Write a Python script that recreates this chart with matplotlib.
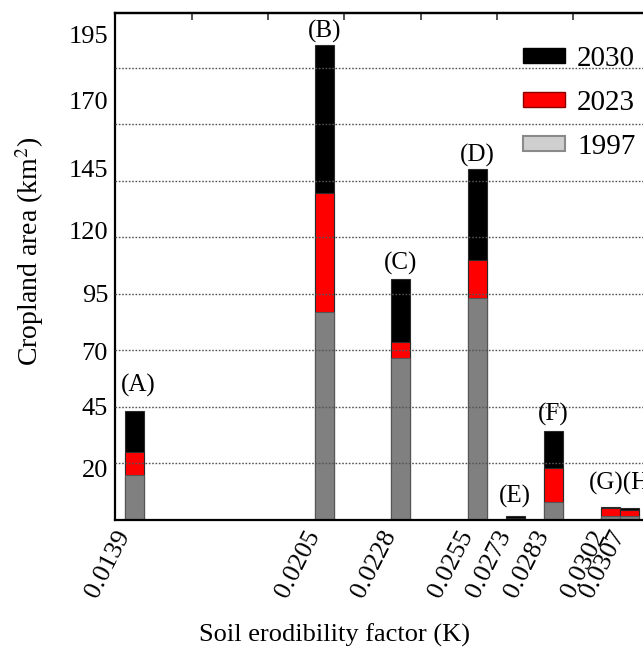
import matplotlib
matplotlib.use("Agg")
import matplotlib.pyplot as plt
from matplotlib.patches import Patch

plt.rcParams["font.family"] = ["Liberation Serif", "DejaVu Serif"]
plt.rcParams["mathtext.fontset"] = "stix"

# soil erodibility classes and cropland area (km2) per year
k_labels = ["0.0139", "0.0205", "0.0228", "0.0255", "0.0273", "0.0283", "0.0302", "0.0307"]
site_tags = ["(A)", "(B)", "(C)", "(D)", "(E)", "(F)", "(G)", "(H)"]
area_2030 = [48.2, 210.0, 106.5, 155.3, 1.8, 39.5, 5.6, 5.4]
area_2023 = [30.2, 144.7, 78.9, 115.0, 0.8, 22.9, 5.3, 4.3]
area_1997 = [19.9, 92.2, 71.8, 98.1, 0.4, 8.1, 1.8, 1.8]

# y tick labels as printed on the figure
ytick_labels = ["20", "45", "70", "95", "120", "145", "170", "195"]

# layout: slot position of each bar along the x axis
x_slot = [0, 2.5, 3.5, 4.5, 5.0, 5.5, 6.25, 6.5]
ytick_pos = [22.6, 50.0, 74.5, 100.3, 127.9, 155.4, 185.5, 214.6]
grid_vals = [25, 50, 75, 100, 125, 150, 175, 200]
# (dx, dy) offsets in points for the site tags
tag_offsets = [(3, 10), (0, 1.5), (0, 3), (0, 1.5), (0, 5.5), (0, 3.5), (-15.5, 9), None]

W, H = 643, 649
fig = plt.figure(figsize=(W / 100, H / 100), dpi=100)
ax = fig.add_axes([115 / W, 1 - 520 / H, 545 / W, 507 / H])

bw = 0.25
edge = "#2b2b2b"
ax.bar(x_slot, area_2030, width=bw, color="#000000", edgecolor=edge, linewidth=0.8, zorder=2)
ax.bar(x_slot, area_2023, width=bw, color="#ff0000", edgecolor=edge, linewidth=0.8, zorder=2)
ax.bar(x_slot, area_1997, width=bw, color="#808080", edgecolor="#555555", linewidth=0.8, zorder=2)

for v in grid_vals:
    ax.axhline(v, color="#555555", linestyle=(0, (1.2, 1.2)), linewidth=1.0, zorder=3)

for i, tag in enumerate(site_tags):
    off = tag_offsets[i]
    if off is None:
        continue
    text = "(G)(H)" if tag == "(G)" else tag
    ax.annotate(text, xy=(x_slot[i], area_2030[i]), xytext=off, textcoords="offset points",
                ha="left" if tag == "(G)" else "center", va="bottom", fontsize=18, zorder=4)

ax.set_xlim(-0.25, 6.9)
ax.set_ylim(0, 224.3)
ax.set_xticks(x_slot)
ax.set_xticklabels(k_labels, rotation=63, ha="right", fontsize=19)
ax.set_yticks(ytick_pos)
ax.set_yticklabels(ytick_labels, fontsize=19)
ax.tick_params(axis="both", length=0)
ax.tick_params(axis="x", pad=5)
ax.tick_params(axis="y", pad=5)

top = ax.secondary_xaxis("top")
top.set_xticks([0.76, 1.76, 2.76, 3.76, 4.76, 5.76, 6.76])
top.set_xticklabels([])
top.tick_params(direction="in", length=5, width=1.2, color="#333333")
top.spines["top"].set_linewidth(1.6)

for s in ax.spines.values():
    s.set_linewidth(1.6)

fig.text(30 / W, 1 - 251 / H, "Cropland area (km$^2$)", rotation=90,
         ha="center", va="center", fontsize=20)
fig.text(334 / W, 1 - 635 / H, "Soil erodibility factor (K)",
         ha="center", va="center", fontsize=19)

handles = [
    Patch(facecolor="#000000", edgecolor="#000000", label="2030"),
    Patch(facecolor="#ff0000", edgecolor="#8a0000", label="2023"),
    Patch(facecolor="#cfcfcf", edgecolor="#8a8a8a", linewidth=1.5, label="1997"),
]
fig.legend(handles=handles, loc="upper left", bbox_to_anchor=(523 / W, 1 - 46 / H),
           frameon=False, fontsize=21, handlelength=1.45, handleheight=0.42,
           handletextpad=0.4, labelspacing=0.62, borderpad=0, borderaxespad=0)

fig.savefig("out.png", dpi=100)
